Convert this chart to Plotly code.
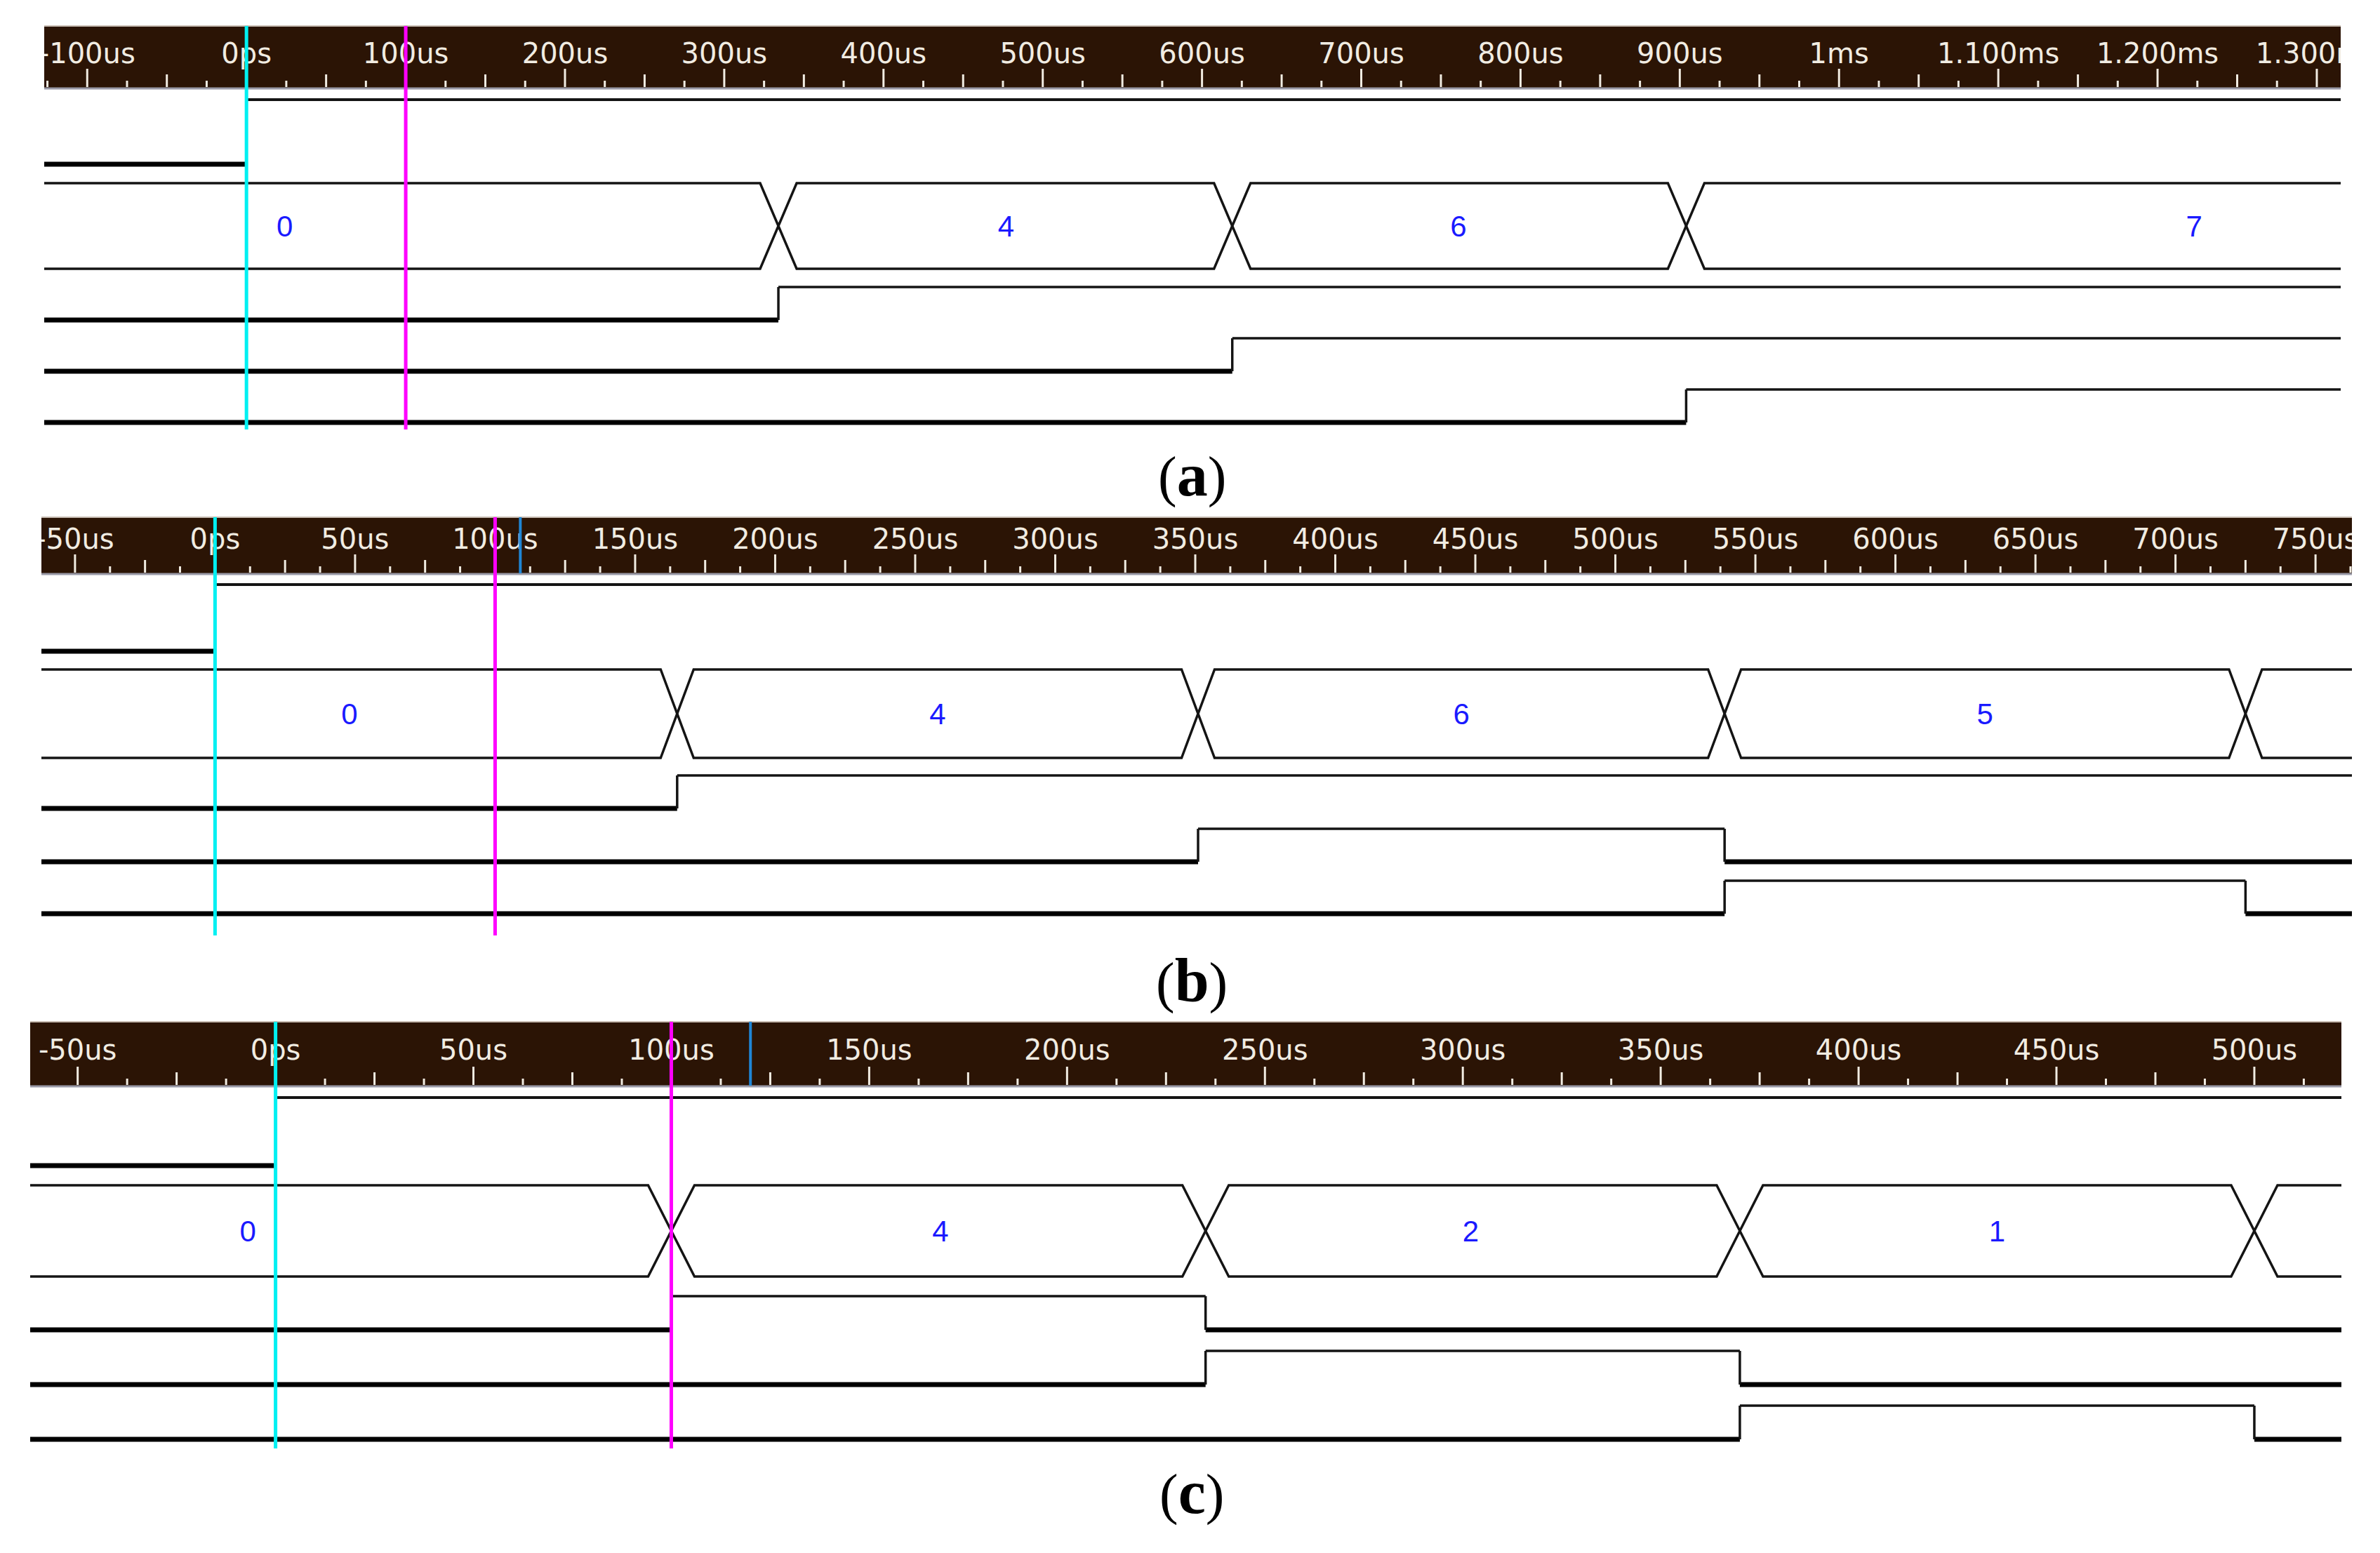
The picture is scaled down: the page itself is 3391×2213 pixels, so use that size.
import plotly.graph_objects as go

W, H = 3391, 2213

# =====================================================================
# Dados (tempos em us)
# =====================================================================
# (a)
a_view = [-127, 1315]
a_tick_us = [-100, 0, 100, 200, 300, 400, 500, 600, 700, 800, 900, 1000, 1100, 1200, 1300]
a_tick_text = ["-100us", "0ps", "100us", "200us", "300us", "400us", "500us", "600us",
               "700us", "800us", "900us", "1ms", "1.100ms", "1.200ms", "1.300ms"]
a_cursors_us = [0, 100]
a_start_us = 0
a_bus_edges = [334, 619, 904]
a_bus_values = ["0", "4", "6", "7"]
a_bus_label_us = [24, 477, 761, 1223]
a_bit1_edges, a_bit1_levels = [334], [0, 1]
a_bit2_edges, a_bit2_levels = [619], [0, 1]
a_bit3_edges, a_bit3_levels = [904], [0, 1]

# (b)
b_view = [-62, 763]
b_tick_us = [-50, 0, 50, 100, 150, 200, 250, 300, 350, 400, 450, 500, 550, 600, 650, 700, 750]
b_tick_text = ["-50us", "0ps", "50us", "100us", "150us", "200us", "250us", "300us", "350us",
               "400us", "450us", "500us", "550us", "600us", "650us", "700us", "750us"]
b_cursors_us = [0, 100]
b_mark_us = 109
b_start_us = 0
b_bus_edges = [165, 351, 539, 725]
b_bus_values = ["0", "4", "6", "5"]
b_bus_label_us = [48, 258, 445, 632]
b_bit1_edges, b_bit1_levels = [165], [0, 1]
b_bit2_edges, b_bit2_levels = [351, 539], [0, 1, 0]
b_bit3_edges, b_bit3_levels = [539, 725], [0, 1, 0]

# (c)
c_view = [-62, 522]
c_tick_us = [-50, 0, 50, 100, 150, 200, 250, 300, 350, 400, 450, 500]
c_tick_text = ["-50us", "0ps", "50us", "100us", "150us", "200us", "250us", "300us",
               "350us", "400us", "450us", "500us"]
c_cursors_us = [0, 100]
c_mark_us = 120
c_start_us = 0
c_bus_edges = [100, 235, 370, 500]
c_bus_values = ["0", "4", "2", "1"]
c_bus_label_us = [-7, 168, 302, 435]
c_bit1_edges, c_bit1_levels = [100, 235], [0, 1, 0]
c_bit2_edges, c_bit2_levels = [235, 370], [0, 1, 0]
c_bit3_edges, c_bit3_levels = [370, 500], [0, 1, 0]

# =====================================================================
# Geometria (pixels da figura)
# =====================================================================
GEO_A = dict(band=(0, 700), left=63, right=3335, head_top=37, head_bot=125, lab_y=80,
             top_line=142, row2=234, bus_top=261, bus_bot=383, bit_low=[456, 529, 602],
             amp=47, cur_end=612, cross=52, cap_y=676)
GEO_B = dict(band=(700, 1430), left=59, right=3351, head_top=737, head_bot=817, lab_y=772,
             top_line=833, row2=928, bus_top=954, bus_bot=1080, bit_low=[1152, 1228, 1302],
             amp=47, cur_end=1333, cross=47, cap_y=1397)
GEO_C = dict(band=(1430, H), left=43, right=3336, head_top=1456, head_bot=1547, lab_y=1500,
             top_line=1564, row2=1661, bus_top=1689, bus_bot=1819, bit_low=[1895, 1973, 2051],
             amp=48, cur_end=2064, cross=66, cap_y=2126)

HEAD_BG = "#2b1405"
HEAD_FG = "#f1ece2"
WIRE = "#141414"
CYAN = "#00f0f2"
MAGENTA = "#ff00ff"
MARK = "#1f86d6"
BLUE_TXT = "#1a1aff"


def _line(fig, xa, ya, xs, ys, color, width):
    fig.add_scatter(x=xs, y=ys, xaxis=xa, yaxis=ya, mode="lines",
                    line=dict(color=color, width=width), hoverinfo="skip",
                    showlegend=False, connectgaps=False)


def painel(fig, k, g, view, ticks, tick_text, cursors, start, bus_edges, bus_vals,
           bus_lab, bits, caption, mark=None):
    xa = "x" if k == 1 else f"x{k}"
    ya = "y" if k == 1 else f"y{k}"
    ppu = (g["right"] - g["left"]) / (view[1] - view[0])
    b0, b1 = g["band"]

    fig.update_layout(**{
        ("xaxis" if k == 1 else f"xaxis{k}"): dict(
            domain=[g["left"] / W, g["right"] / W], range=view, visible=False,
            anchor=ya, fixedrange=True),
        ("yaxis" if k == 1 else f"yaxis{k}"): dict(
            domain=[1 - b1 / H, 1 - b0 / H], range=[b1, b0], visible=False,
            anchor=xa, fixedrange=True),
    })

    # cabeçalho escuro da régua de tempo
    fig.add_shape(type="rect", xref=xa, yref=ya, x0=view[0], x1=view[1],
                  y0=g["head_top"], y1=g["head_bot"], fillcolor=HEAD_BG,
                  line=dict(width=0), layer="below")
    fig.add_shape(type="line", xref=xa, yref=ya, x0=view[0], x1=view[1],
                  y0=g["head_bot"] + 1, y1=g["head_bot"] + 1,
                  line=dict(color="#9a9aa8", width=3), layer="below")
    fig.add_shape(type="line", xref=xa, yref=ya, x0=view[0], x1=view[1],
                  y0=g["head_top"], y1=g["head_top"],
                  line=dict(color="#c9beb4", width=2), layer="below")

    # marcas da régua: longa / média / curta
    step = ticks[1] - ticks[0]
    q = step / 4
    xs, ys = [], []
    n = 0
    t = ticks[0] - step
    while t <= view[1]:
        if t >= view[0]:
            pos = n % 4
            ln = 26 if pos == 0 else (18 if pos == 2 else 9)
            xs += [t, t, None]
            ys += [g["head_bot"] - 1, g["head_bot"] - 1 - ln, None]
        n += 1
        t = ticks[0] - step + n * q
    _line(fig, xa, ya, xs, ys, HEAD_FG, 3)

    fig.add_scatter(x=ticks, y=[g["lab_y"]] * len(ticks), xaxis=xa, yaxis=ya,
                    mode="text", text=tick_text, cliponaxis=True,
                    textfont=dict(family="DejaVu Sans", size=40, color=HEAD_FG),
                    hoverinfo="skip", showlegend=False)

    if mark is not None:
        _line(fig, xa, ya, [mark, mark], [g["head_top"], g["head_bot"]], MARK, 4)

    # linha superior (inicia no cursor) e linha 2 (termina no cursor)
    _line(fig, xa, ya, [start, view[1]], [g["top_line"]] * 2, WIRE, 4)
    _line(fig, xa, ya, [view[0], start], [g["row2"]] * 2, "#000000", 7)

    # barramento com cruzamentos em X
    hw = g["cross"] / 2 / ppu
    top, bot = g["bus_top"], g["bus_bot"]
    for first, second in ((top, bot), (bot, top)):
        px, py = [view[0]], [first]
        cur, oth = first, second
        for e in bus_edges:
            px += [e - hw, e + hw]
            py += [cur, oth]
            cur, oth = oth, cur
        px.append(view[1])
        py.append(cur)
        _line(fig, xa, ya, px, py, WIRE, 3.5)

    fig.add_scatter(x=bus_lab, y=[(top + bot) / 2 + 4] * len(bus_lab), xaxis=xa, yaxis=ya,
                    mode="text", text=bus_vals, cliponaxis=True,
                    textfont=dict(family="Liberation Sans", size=42, color=BLUE_TXT),
                    hoverinfo="skip", showlegend=False)

    # bits individuais: nível baixo grosso, nível alto fino
    for (edges, levels), low in zip(bits, g["bit_low"]):
        bounds = [view[0]] + list(edges) + [view[1]]
        lx, ly, hx, hy = [], [], [], []
        for i, lv in enumerate(levels):
            y = low - g["amp"] * lv
            if lv == 0:
                lx += [bounds[i], bounds[i + 1], None]
                ly += [y, y, None]
            else:
                hx += [bounds[i], bounds[i + 1], None]
                hy += [y, y, None]
        for e in edges:
            hx += [e, e, None]
            hy += [low, low - g["amp"], None]
        _line(fig, xa, ya, lx, ly, "#000000", 7)
        _line(fig, xa, ya, hx, hy, WIRE, 3.5)

    # cursores
    for c, col in zip(cursors, (CYAN, MAGENTA)):
        _line(fig, xa, ya, [c, c], [g["head_top"], g["cur_end"]], col, 5)

    fig.add_annotation(xref="paper", yref="paper", x=1698 / W, y=1 - g["cap_y"] / H,
                       text=f"(<b><span style='font-size:88px'>{caption}</span></b>)",
                       showarrow=False, xanchor="center", yanchor="middle",
                       font=dict(family="Liberation Serif", size=80, color="#000000"))


fig = go.Figure()
painel(fig, 1, GEO_A, a_view, a_tick_us, a_tick_text, a_cursors_us, a_start_us,
       a_bus_edges, a_bus_values, a_bus_label_us,
       [(a_bit1_edges, a_bit1_levels), (a_bit2_edges, a_bit2_levels),
        (a_bit3_edges, a_bit3_levels)], "a")
painel(fig, 2, GEO_B, b_view, b_tick_us, b_tick_text, b_cursors_us, b_start_us,
       b_bus_edges, b_bus_values, b_bus_label_us,
       [(b_bit1_edges, b_bit1_levels), (b_bit2_edges, b_bit2_levels),
        (b_bit3_edges, b_bit3_levels)], "b", mark=b_mark_us)
painel(fig, 3, GEO_C, c_view, c_tick_us, c_tick_text, c_cursors_us, c_start_us,
       c_bus_edges, c_bus_values, c_bus_label_us,
       [(c_bit1_edges, c_bit1_levels), (c_bit2_edges, c_bit2_levels),
        (c_bit3_edges, c_bit3_levels)], "c", mark=c_mark_us)

fig.update_layout(
    width=W, height=H,
    margin=dict(l=0, r=0, t=0, b=0),
    paper_bgcolor="white",
    plot_bgcolor="rgba(0,0,0,0)",
    showlegend=False,
)

fig.write_html("out.html", config={"displayModeBar": False},
               post_script="document.body.style.margin='0px';")
